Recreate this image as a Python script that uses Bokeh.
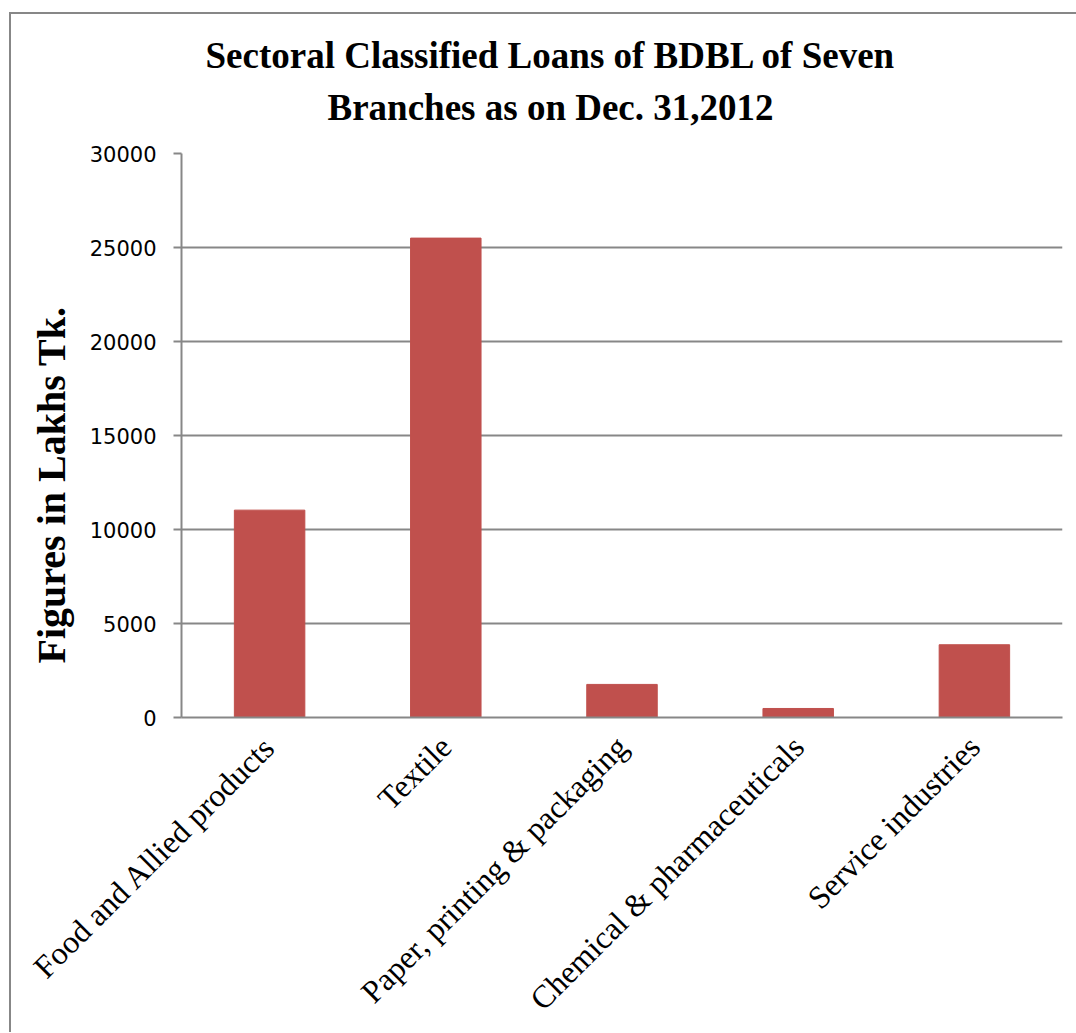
import math
from bokeh.plotting import figure
from bokeh.models import Title, SingleIntervalTicker, Range1d
from bokeh.embed import file_html
from bokeh.resources import INLINE

title_line1 = "Sectoral Classified Loans of BDBL of Seven"
title_line2 = "Branches as on Dec. 31,2012"
y_title = "Figures in Lakhs Tk."
categories = ["Food and Allied products", "Textile", "Paper, printing & packaging",
              "Chemical & pharmaceuticals", "Service industries"]
loans = [11030, 25500, 1760, 480, 3870]
y_max = 30000
y_step = 5000

GRAY = "#878787"
BAR = "#C0504D"

p = figure(x_range=categories, y_range=Range1d(0, y_max),
           frame_width=881, frame_height=564,
           min_border_left=170, min_border_right=14,
           min_border_top=139, min_border_bottom=305,
           output_backend="svg", toolbar_location=None,
           background_fill_color="white", border_fill_color="white")
p.styles = {"border-top": f"2px solid {GRAY}", "border-left": f"2px solid {GRAY}",
            "margin-top": "12px", "margin-left": "9px"}

p.vbar(x=categories, top=loans, width=0.4, fill_color=BAR, line_color=BAR)

p.outline_line_color = None
p.xgrid.grid_line_color = None
p.ygrid.grid_line_color = GRAY
p.ygrid.grid_line_width = 2

p.yaxis.ticker = SingleIntervalTicker(interval=y_step)
p.yaxis.axis_line_color = GRAY
p.yaxis.axis_line_width = 2
p.yaxis.major_tick_line_color = GRAY
p.yaxis.major_tick_line_width = 2
p.yaxis.major_tick_out = 8
p.yaxis.major_tick_in = 0
p.yaxis.minor_tick_line_color = None
p.yaxis.major_label_text_font = "DejaVu Sans"
p.yaxis.major_label_text_font_size = "21px"
p.yaxis.major_label_text_color = "black"
p.yaxis.major_label_standoff = 17

p.xaxis.axis_line_color = GRAY
p.xaxis.axis_line_width = 2
p.xaxis.major_tick_line_color = None
p.xaxis.minor_tick_line_color = None
p.xaxis.major_label_orientation = math.pi / 4
p.xaxis.major_label_text_font = "Liberation Serif"
p.xaxis.major_label_text_font_size = "32px"
p.xaxis.major_label_text_color = "black"
p.xaxis.major_label_standoff = 18

serif_bold = dict(text_font="Liberation Serif", text_font_style="bold", text_color="black")

# y-axis title as a rotated side title
p.add_layout(Title(text=y_title, align="left", offset=54, standoff=26,
                   text_font_size="40px", **serif_bold), "left")

# spacer between frame and the two-line chart title
p.add_layout(Title(text=" ", standoff=14, text_font_size="1px"), "above")
# two-line chart title (added nearest-first)
p.add_layout(Title(text=title_line2, align="left", offset=146, standoff=18,
                   text_font_size="37px", **serif_bold), "above")
p.add_layout(Title(text=title_line1, align="left", offset=24, standoff=0,
                   text_font_size="37px", **serif_bold), "above")

open("out.html", "w").write(file_html(p, INLINE))
